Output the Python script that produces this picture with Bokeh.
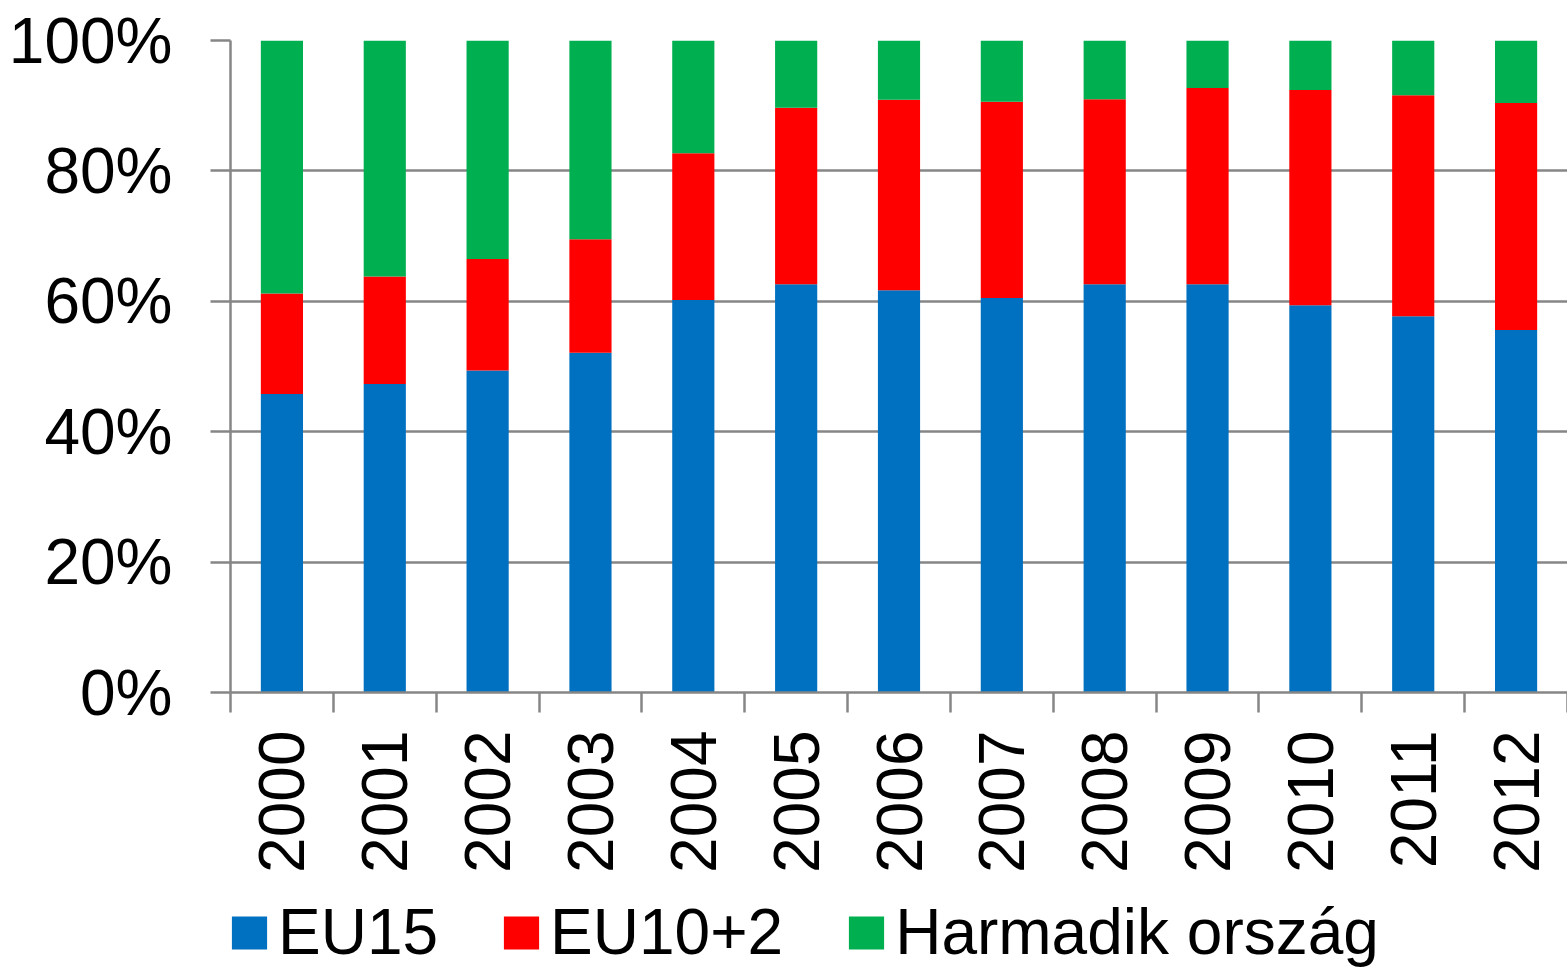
import math
from bokeh.plotting import figure
from bokeh.layouts import column
from bokeh.models import (Range1d, FixedTicker, Legend, LegendItem,
                          PrintfTickFormatter, ColumnDataSource)
from bokeh.embed import file_html
from bokeh.resources import INLINE

years = ["2000", "2001", "2002", "2003", "2004", "2005", "2006",
         "2007", "2008", "2009", "2010", "2011", "2012"]
eu15 = [45.8, 47.3, 49.4, 52.1, 60.2, 62.6, 61.7, 60.5, 62.6, 62.6, 59.4, 57.7, 55.6]
eu10_2 = [15.4, 16.5, 17.1, 17.4, 22.5, 27.1, 29.2, 30.1, 28.4, 30.1, 33.0, 33.9, 34.8]
harmadik = [38.8, 36.2, 33.5, 30.5, 17.3, 10.3, 9.1, 9.4, 9.0, 7.3, 7.6, 8.4, 9.6]
series_names = ["EU15", "EU10+2", "Harmadik ország"]
y_ticks = [0, 20, 40, 60, 80, 100]

colors = ["#0070C0", "#FF0000", "#00B050"]
FONT = "Liberation Sans"
GRID = "#868686"

n = len(years)
xs = [i + 0.5 for i in range(n)]
src = ColumnDataSource(dict(x=xs, eu15=eu15, eu10=eu10_2, third=harmadik))
stack_cols = ["eu15", "eu10", "third"]

p = figure(width=1567, height=875, output_backend="svg", toolbar_location=None,
           x_range=Range1d(0, n), y_range=Range1d(0, 100),
           min_border_left=230, min_border_right=0, min_border_top=40,
           min_border_bottom=180)
p.outline_line_color = None
p.background_fill_color = "white"
p.border_fill_color = "white"

rs = p.vbar_stack(stack_cols, x="x", width=0.41, color=colors,
                  line_color=None, source=src)

# axes
p.xgrid.visible = False
p.ygrid.grid_line_color = GRID
p.ygrid.grid_line_width = 2.5
p.yaxis.ticker = FixedTicker(ticks=y_ticks)
p.yaxis.formatter = PrintfTickFormatter(format="%d%%")
p.yaxis.axis_line_color = GRID
p.yaxis.axis_line_width = 2.5
p.yaxis.major_tick_line_color = GRID
p.yaxis.major_tick_line_width = 2.5
p.yaxis.major_tick_out = 20
p.yaxis.major_tick_in = 0
p.yaxis.minor_tick_line_color = None
p.yaxis.major_label_text_font = FONT
p.yaxis.major_label_text_font_size = "64px"
p.yaxis.major_label_text_color = "black"
p.yaxis.major_label_standoff = 38

p.xaxis.ticker = FixedTicker(ticks=xs, minor_ticks=list(range(n + 1)))
p.xaxis.major_label_overrides = {x: y for x, y in zip(xs, years)}
p.xaxis.major_label_orientation = math.pi / 2
p.xaxis.axis_line_color = GRID
p.xaxis.axis_line_width = 2.5
p.xaxis.major_tick_line_color = None
p.xaxis.major_tick_out = 0
p.xaxis.major_tick_in = 0
p.xaxis.minor_tick_line_color = GRID
p.xaxis.minor_tick_line_width = 2.5
p.xaxis.minor_tick_out = 20
p.xaxis.minor_tick_in = 0
p.xaxis.major_label_text_font = FONT
p.xaxis.major_label_text_font_size = "64px"
p.xaxis.major_label_text_color = "black"
p.xaxis.major_label_standoff = 18

# legend strip below the chart (its frame is aligned with the chart's frame)
pl = figure(width=1567, height=94, output_backend="svg", toolbar_location=None,
            x_range=Range1d(-3, -2), y_range=Range1d(0, 1),
            min_border_left=0, min_border_right=0, min_border_top=0,
            min_border_bottom=0)
pl.axis.visible = False
pl.grid.visible = False
pl.outline_line_color = None
pl.border_fill_color = "white"
pl.background_fill_color = "white"
swatches = pl.vbar_stack(stack_cols, x="x", width=0.41, color=colors,
                         line_color=None, source=src)

legend = Legend(items=[LegendItem(label=nm, renderers=[r]) for nm, r in zip(series_names, swatches)],
                location=(-3, 0), orientation="horizontal",
                glyph_width=44, glyph_height=41, label_standoff=7, spacing=61,
                padding=0, margin=0, border_line_color=None,
                background_fill_alpha=0,
                label_text_font=FONT, label_text_font_size="64px",
                label_text_color="black")
pl.add_layout(legend, "center")

layout = column(p, pl, spacing=0)
open("out.html", "w").write(file_html(layout, INLINE))
